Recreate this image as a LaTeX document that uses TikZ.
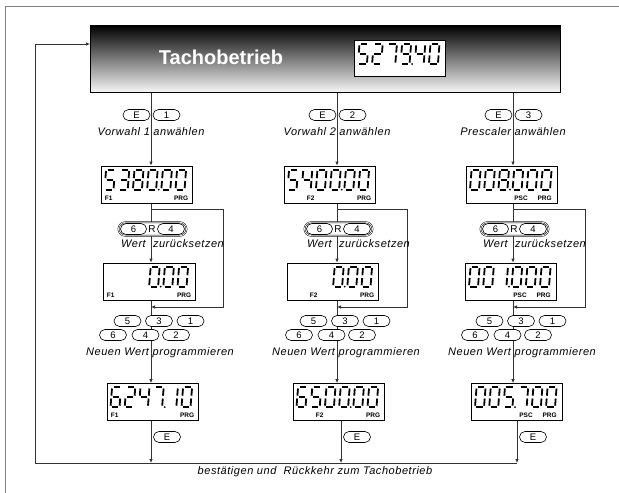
\documentclass[tikz,border=0pt]{standalone}
\usepackage{fontspec}
\setmainfont{Liberation Sans}
\newfontfamily\notefont[LetterSpace=5]{Liberation Sans}
\usetikzlibrary{arrows.meta,shapes.misc,backgrounds}

\newcommand\sga{\draw (1.4,0) -- (7.6,0);}
\newcommand\sgb{\draw (9,1.4) -- (9,8.6);}
\newcommand\sgc{\draw (9,11.4) -- (9,18.6);}
\newcommand\sgd{\draw (1.4,20) -- (7.6,20);}
\newcommand\sge{\draw (0,11.4) -- (0,18.6);}
\newcommand\sgf{\draw (0,1.4) -- (0,8.6);}
\newcommand\sgg{\draw (1.4,10) -- (7.6,10);}

\newcommand\lcddigit[3]{%
  \begin{scope}[shift={(#1,#2)},xslant=0.08,segline]
    \ifcase#3\relax \sga\sgb\sgc\sgd\sge\sgf
    \or \sgb\sgc
    \or \sga\sgb\sgg\sge\sgd
    \or \sga\sgb\sgg\sgc\sgd
    \or \sgf\sgg\sgb\sgc
    \or \sga\sgf\sgg\sgc\sgd
    \or \sga\sgf\sgg\sge\sgd\sgc
    \or \sga\sgb\sgc
    \or \sga\sgb\sgc\sgd\sge\sgf\sgg
    \or \sga\sgb\sgc\sgd\sgf\sgg
    \fi
  \end{scope}}

\newcommand\lcdnum[3]{%
  \begin{scope}[shift={(#1.north west)}]
    \foreach \dg [count=\i] in {#2}{%
      \pgfmathsetmacro\lcdx{(\i-1)*14.2+5.5}%
      \lcddigit{\lcdx}{4}{\dg}}
    \pgfmathsetmacro\lcdx{(#3-1)*14.2+15.5}
    \fill (\lcdx,24) circle (1);
  \end{scope}}

\begin{document}
\begin{tikzpicture}[x=1pt,y=-1pt,
  conn/.style={line width=0.8pt,black!80},
  arr/.style={conn,-{Latex[length=4pt,width=3.6pt]}},
  key/.style={draw,rounded rectangle,fill=white,line width=0.6pt,minimum width=27pt,minimum height=11pt,inner sep=0pt,font=\fontsize{9.5}{9.5}\selectfont},
  rgroup/.style={draw,double,double distance=0.7pt,rounded rectangle,fill=white,line width=0.5pt,minimum width=68pt,minimum height=13.5pt,inner sep=0pt},
  note/.style={font=\notefont\itshape\fontsize{11}{12}\selectfont,inner sep=0pt},
  lcd/.style={draw,fill=white,line width=0.8pt,minimum width=91pt,minimum height=37pt,inner sep=0pt},
  tag/.style={font=\bfseries\fontsize{6.5}{7}\selectfont,inner sep=0pt},
  segline/.style={line width=1.8pt}]
\useasboundingbox (0,0) rectangle (619,493);
\draw[gray,line width=0.8pt] (5,493) -- (5,6) -- (619,6);

\node[draw,line width=0.8pt,top color=black,bottom color=gray!6,minimum width=470pt,minimum height=67pt,anchor=north west] (tacho) at (90,25) {};
\node[white,font=\bfseries\fontsize{20}{24}\selectfont] (title) at (221,57) {Tachobetrieb};
\node[lcd,minimum height=36pt,anchor=north west] (d0) at (354,40) {};
\lcdnum{d0}{5,2,7,9,4,0}{4}

\coordinate (c1) at (151,0);
\coordinate (c2) at (337,0);
\coordinate (c3) at (513,0);
\coordinate (c1b) at (151,0);
\coordinate (c2b) at (341,0);
\coordinate (c3b) at (517,0);
\coordinate (fb) at (35,463);
\coordinate (fin) at (35,44);

\node[key] (e1) at (136.5,115) {E};
\node[key] (n1) at (166.5,115) {1};
\node[note] (t1) at (151,132) {Vorwahl 1 anwählen};
\node[lcd] (d11) at (146.5,184.5) {};
\lcdnum{d11}{5,3,8,0,0,0}{4}
\node[tag,anchor=south west] (d11l) at ([xshift=4pt,yshift=3pt]d11.south west) {F1};
\node[tag,anchor=south east] (d11r) at ([xshift=-4pt,yshift=3pt]d11.south east) {PRG};
\coordinate (br1) at (223,209);
\coordinate (bk1) at (223,307);
\node[rgroup] (r1) at (152.5,229) {};
\node[key,minimum width=26pt] (r16) at (133.5,229) {6};
\node[font=\fontsize{10}{10}\selectfont,inner sep=0pt] (r1R) at (152,229) {R};
\node[key] (r14) at (171,229) {4};
\node[note] (w1) at (172.5,244) {Wert\ \ zurücksetzen};
\node[lcd,minimum width=92pt] (d12) at (149,281.5) {};
\lcdnum{d12}{10,10,10,0,0,0}{4}
\node[tag,anchor=south west] (d12l) at ([xshift=4pt,yshift=3pt]d12.south west) {F1};
\node[tag,anchor=south east] (d12r) at ([xshift=-4pt,yshift=3pt]d12.south east) {PRG};
\node[key] (k15) at (127.5,321) {5};
\node[key] (k13) at (159,321) {3};
\node[key] (k11) at (190.5,321) {1};
\node[key] (k16) at (113,335) {6};
\node[key] (k14) at (145.5,335) {4};
\node[key] (k12) at (176,335) {2};
\node[note] (p1) at (160,353) {Neuen Wert programmieren};
\node[lcd] (d13) at (152.5,402) {};
\lcdnum{d13}{6,2,4,7,1,0}{4}
\node[tag,anchor=south west] (d13l) at ([xshift=4pt,yshift=3pt]d13.south west) {F1};
\node[tag,anchor=south east] (d13r) at ([xshift=-4pt,yshift=3pt]d13.south east) {PRG};
\node[key] (f1) at (167,437) {E};

\node[key] (e2) at (322.5,115) {E};
\node[key] (n2) at (352.5,115) {2};
\node[note] (t2) at (337,132) {Vorwahl 2 anwählen};
\node[lcd] (d21) at (329.5,184.5) {};
\lcdnum{d21}{5,4,0,0,0,0}{4}
\node[tag,anchor=south west] (d21l) at ([xshift=23pt,yshift=3pt]d21.south west) {F2};
\node[tag,anchor=south east] (d21r) at ([xshift=-4pt,yshift=3pt]d21.south east) {PRG};
\coordinate (br2) at (407,209);
\coordinate (bk2) at (407,307);
\node[rgroup] (r2) at (338.5,229) {};
\node[key,minimum width=26pt] (r26) at (319.5,229) {6};
\node[font=\fontsize{10}{10}\selectfont,inner sep=0pt] (r2R) at (338,229) {R};
\node[key] (r24) at (357,229) {4};
\node[note] (w2) at (358.5,244) {Wert\ \ zurücksetzen};
\node[lcd] (d22) at (332.5,281.5) {};
\lcdnum{d22}{10,10,10,0,0,0}{4}
\node[tag,anchor=south west] (d22l) at ([xshift=23pt,yshift=3pt]d22.south west) {F2};
\node[tag,anchor=south east] (d22r) at ([xshift=-4pt,yshift=3pt]d22.south east) {PRG};
\node[key] (k25) at (313.5,321) {5};
\node[key] (k23) at (345,321) {3};
\node[key] (k21) at (376.5,321) {1};
\node[key] (k26) at (299,335) {6};
\node[key] (k24) at (331.5,335) {4};
\node[key] (k22) at (362,335) {2};
\node[note] (p2) at (346,353) {Neuen Wert programmieren};
\node[lcd] (d23) at (338.5,402) {};
\lcdnum{d23}{6,5,0,0,0,0}{4}
\node[tag,anchor=south west] (d23l) at ([xshift=23pt,yshift=3pt]d23.south west) {F2};
\node[tag,anchor=south east] (d23r) at ([xshift=-4pt,yshift=3pt]d23.south east) {PRG};
\node[key] (f2) at (357,437) {E};

\node[key] (e3) at (498.5,115) {E};
\node[key] (n3) at (528.5,115) {3};
\node[note] (t3) at (513,132) {Prescaler anwählen};
\node[lcd] (d31) at (512,184.5) {};
\lcdnum{d31}{0,0,8,0,0,0}{3}
\node[tag,anchor=south east] (d31l) at ([xshift=-30pt,yshift=3pt]d31.south east) {PSC};
\node[tag,anchor=south east] (d31r) at ([xshift=-6pt,yshift=3pt]d31.south east) {PRG};
\coordinate (br3) at (585,209);
\coordinate (bk3) at (585,307);
\node[rgroup] (r3) at (514.5,229) {};
\node[key,minimum width=26pt] (r36) at (495.5,229) {6};
\node[font=\fontsize{10}{10}\selectfont,inner sep=0pt] (r3R) at (514,229) {R};
\node[key] (r34) at (533,229) {4};
\node[note] (w3) at (534.5,244) {Wert\ \ zurücksetzen};
\node[lcd] (d32) at (511,281.5) {};
\lcdnum{d32}{0,0,1,0,0,0}{3}
\node[tag,anchor=south east] (d32l) at ([xshift=-30pt,yshift=3pt]d32.south east) {PSC};
\node[tag,anchor=south east] (d32r) at ([xshift=-6pt,yshift=3pt]d32.south east) {PRG};
\node[key] (k35) at (489.5,321) {5};
\node[key] (k33) at (521,321) {3};
\node[key] (k31) at (552.5,321) {1};
\node[key] (k36) at (475,335) {6};
\node[key] (k34) at (507.5,335) {4};
\node[key] (k32) at (538,335) {2};
\node[note] (p3) at (522,353) {Neuen Wert programmieren};
\node[lcd] (d33) at (517,402) {};
\lcdnum{d33}{0,0,5,7,0,0}{3}
\node[tag,anchor=south east] (d33l) at ([xshift=-30pt,yshift=3pt]d33.south east) {PSC};
\node[tag,anchor=south east] (d33r) at ([xshift=-6pt,yshift=3pt]d33.south east) {PRG};
\node[key] (f3) at (533,437) {E};

\node[note] (back) at (315,472) {bestätigen und\ \ Rückkehr zum Tachobetrieb};

\begin{scope}[on background layer]
\draw[arr] (c1 |- tacho.south) -- (c1 |- d11.north);
\draw[arr] (c1 |- d11.south) -- (c1 |- d12.north);
\draw[arr] (c1 |- br1) -- (br1) -- (bk1) -- (c1 |- bk1);
\draw[arr] (c1 |- d12.south) -- (c1 |- d13.north);
\draw[arr] (c1b |- d13.south) -- (c1b |- fb);
\draw[arr] (c2 |- tacho.south) -- (c2 |- d21.north);
\draw[arr] (c2 |- d21.south) -- (c2 |- d22.north);
\draw[arr] (c2 |- br2) -- (br2) -- (bk2) -- (c2 |- bk2);
\draw[arr] (c2 |- d22.south) -- (c2 |- d23.north);
\draw[arr] (c2b |- d23.south) -- (c2b |- fb);
\draw[arr] (c3 |- tacho.south) -- (c3 |- d31.north);
\draw[arr] (c3 |- d31.south) -- (c3 |- d32.north);
\draw[arr] (c3 |- br3) -- (br3) -- (bk3) -- (c3 |- bk3);
\draw[arr] (c3 |- d32.south) -- (c3 |- d33.north);
\draw[arr] (c3b |- d33.south) -- (c3b |- fb);
\draw[arr] (c3b |- fb) -- (fb) -- (fin) -- (fin -| tacho.west);
\end{scope}
\end{tikzpicture}
\end{document}
